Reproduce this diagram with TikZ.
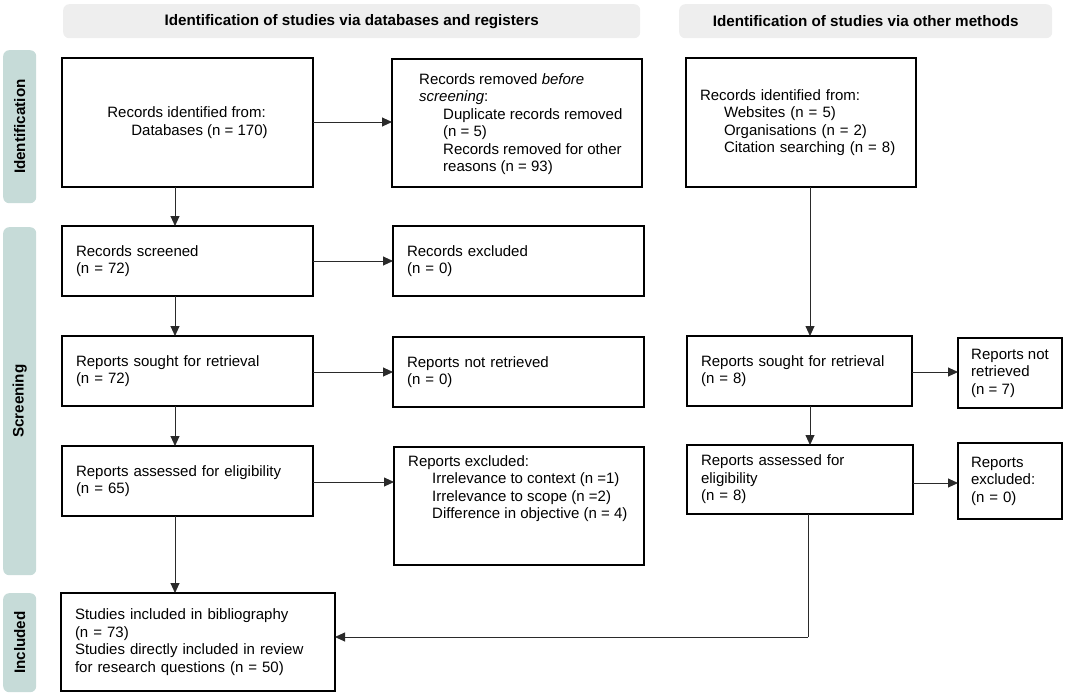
\documentclass[tikz,border=0pt]{standalone}
\usepackage{fontspec}
\setmainfont{Liberation Sans}
\usetikzlibrary{arrows.meta,calc}
\definecolor{sidecol}{HTML}{C6DBD8}
\definecolor{headcol}{HTML}{EEEEEE}
\definecolor{arrcol}{HTML}{2A2A2A}
\tikzset{
  box/.style={draw=black,line width=1.6pt,fill=white,anchor=north west,inner sep=0pt,outer sep=0pt,font=\fontsize{15}{17.5}\selectfont},
  lbox/.style={box,align=left,inner xsep=14pt},
  txt/.style={align=left,inner sep=0pt,font=\fontsize{15}{17.5}\selectfont},
  conn/.style={draw=arrcol,line width=0.9pt,-{Triangle[length=10pt,width=9pt]}},
  plain/.style={draw=arrcol,line width=0.9pt},
  side/.style={fill=sidecol,rounded corners=6pt,draw=none},
  sidelbl/.style={rotate=90,font=\fontsize{15.2}{17}\selectfont\bfseries},
  head/.style={fill=headcol,rounded corners=6pt,draw=none,font=\fontsize{15.2}{17}\selectfont\bfseries,inner sep=0pt},
}
\newcommand{\ind}{\hspace*{24pt}}
\begin{document}
\begin{tikzpicture}[x=1pt,y=-1pt]
\useasboundingbox (0,0) rectangle (1065,696);
% headers
\node[head,minimum width=577pt,minimum height=34pt,anchor=north west] (h1) at (63,4) {Identification of studies via databases and registers};
\node[head,minimum width=373pt,minimum height=34pt,anchor=north west] (h2) at (679,4) {Identification of studies via other methods};
% side bars
\node[side,minimum width=33pt,minimum height=153pt,anchor=north west] (s1) at (3,50) {};
\node[sidelbl] at (s1.center) {Identification};
\node[side,minimum width=33pt,minimum height=348pt,anchor=north west] (s2) at (3,227) {};
\node[sidelbl] at (s2.center) {Screening};
\node[side,minimum width=33pt,minimum height=99pt,anchor=north west] (s3) at (3,593) {};
\node[sidelbl] at (s3.center) {Included};
% boxes
\node[box,align=left,minimum width=251pt,minimum height=129pt] (a) at (62,58) {Records identified from:\\\ind Databases (n = 170)};
\node[box,minimum width=250pt,minimum height=128pt] (b) at (392,59) {};
\node[txt,anchor=west] (bt) at ($(b.west)+(27,1)$) {Records removed \emph{before}\\\emph{screening}:\\\ind Duplicate records removed\\\ind (n = 5)\\\ind Records removed for other\\\ind reasons (n = 93)};
\node[lbox,text width=202pt,minimum height=129pt] (c) at (686,58) {Records identified from:\\\ind Websites (n = 5)\\\ind Organisations (n = 2)\\\ind Citation searching (n = 8)\\[8pt]};
\node[lbox,text width=223pt,minimum height=70pt] (d) at (62,226) {Records screened\\(n = 72)};
\node[lbox,text width=223pt,minimum height=70pt] (e) at (393,226) {Records excluded\\(n = 0)};
\node[lbox,text width=223pt,minimum height=70pt] (f) at (62,336) {Reports sought for retrieval\\(n = 72)};
\node[lbox,text width=223pt,minimum height=70pt] (g) at (393,337) {Reports not retrieved\\(n = 0)};
\node[lbox,text width=197pt,minimum height=70pt] (h) at (687,336) {Reports sought for retrieval\\(n = 8)};
\node[box,align=left,minimum width=104pt,minimum height=70pt] (i) at (958,338) {Reports not\\retrieved\\(n = 7)};
\node[lbox,text width=223pt,minimum height=70pt] (j) at (62,446) {Reports assessed for eligibility\\(n = 65)};
\node[box,minimum width=250pt,minimum height=118pt] (k) at (394,447) {};
\node[txt,anchor=north west] (kt) at ($(k.north west)+(14,8)$) {Reports excluded:\\\ind Irrelevance to context (n =1)\\\ind Irrelevance to scope (n =2)\\\ind Difference in objective (n = 4)};
\node[lbox,text width=198pt,minimum height=69pt] (l) at (687,445) {Reports assessed for\\eligibility\\(n = 8)};
\node[box,align=left,inner xsep=13pt,text width=78pt,minimum height=76pt] (m) at (958,443) {Reports\\excluded:\\(n = 0)};
\node[lbox,text width=246pt,minimum height=98pt] (n) at (61,593) {Studies included in bibliography\\(n = 73)\\Studies directly included in review\\for research questions (n = 50)};
% connectors
\draw[conn] (a.east |- 0,122) -- (b.west |- 0,122);
\draw[conn] (a.south -| 175,0) -- (d.north -| 175,0);
\draw[conn] (d.east |- 0,261) -- (e.west |- 0,261);
\draw[conn] (d.south -| 175,0) -- (f.north -| 175,0);
\draw[conn] (f.east |- 0,372) -- (g.west |- 0,372);
\draw[conn] (f.south -| 175,0) -- (j.north -| 175,0);
\draw[conn] (j.east |- 0,482) -- (k.west |- 0,482);
\draw[conn] (j.south -| 175,0) -- (n.north -| 175,0);
\draw[conn] (c.south -| 810,0) -- (h.north -| 810,0);
\draw[conn] (h.east |- 0,372) -- (i.west |- 0,372);
\draw[conn] (h.south -| 810,0) -- (l.north -| 810,0);
\draw[conn] (l.east |- 0,483) -- (m.west |- 0,483);
\coordinate (turn) at (808,637);
\draw[plain] (l.south -| turn) -- (turn);
\draw[conn] (turn) -- (n.east |- turn);
\end{tikzpicture}
\end{document}
